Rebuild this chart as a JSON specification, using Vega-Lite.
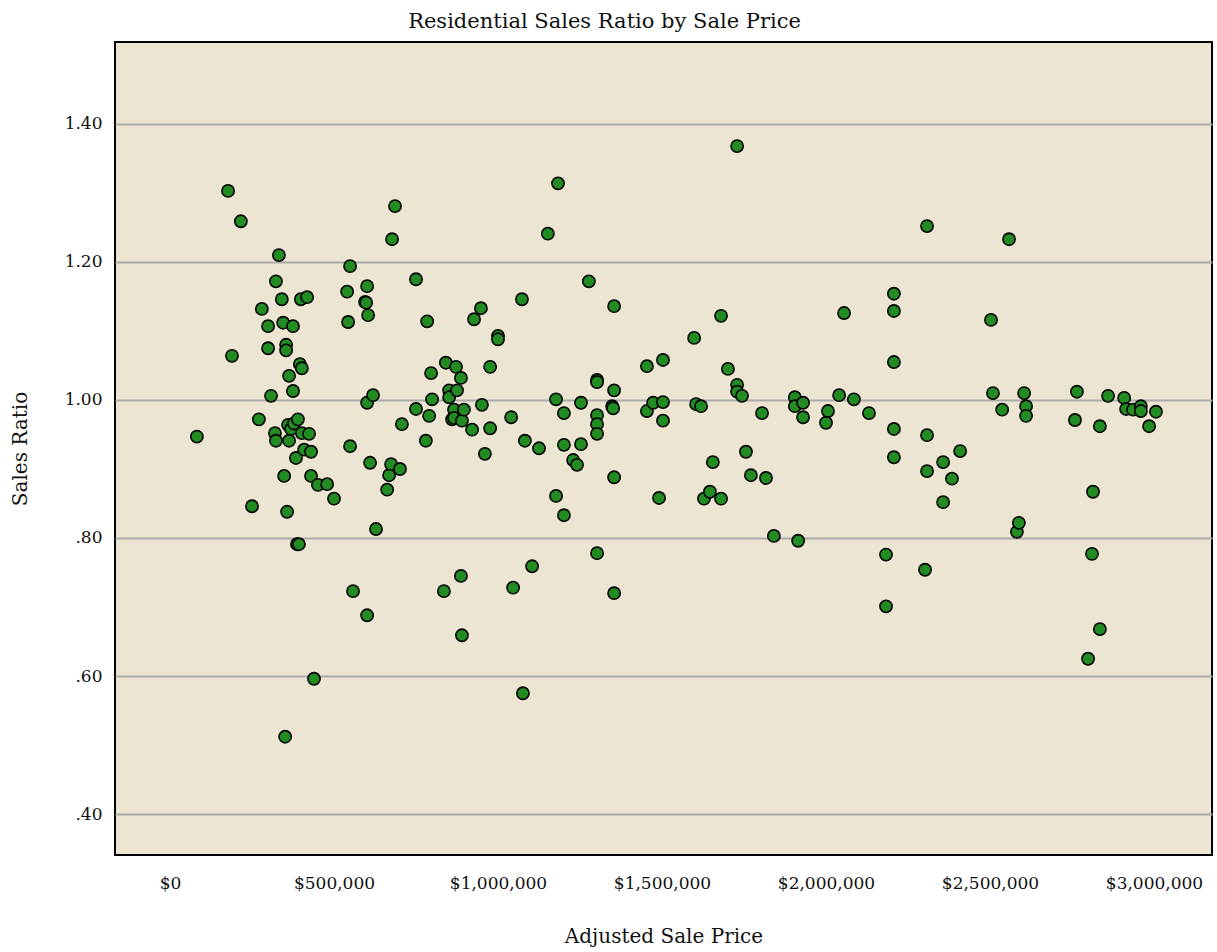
{
  "$schema": "https://vega.github.io/schema/vega-lite/v6.json",
  "autosize": {"type": "none"},
  "padding": {"left": 115, "top": 42, "right": 5, "bottom": 97},
  "width": 1097,
  "height": 813,
  "background": "#ffffff",
  "title": {
    "text": "Residential Sales Ratio by Sale Price",
    "font": "DejaVu Serif",
    "fontSize": 21,
    "fontWeight": "normal",
    "color": "#111111",
    "anchor": "middle",
    "dx": -59,
    "offset": 10
  },
  "config": {
    "view": {"fill": "#ECE5D1", "stroke": "#000000", "strokeWidth": 2},
    "axis": {
      "labelFont": "DejaVu Serif",
      "titleFont": "DejaVu Serif",
      "labelColor": "#111111",
      "titleColor": "#111111",
      "titleFontWeight": "normal",
      "domain": false,
      "ticks": false,
      "tickSize": 0
    }
  },
  "data": {
    "values": [
      {"price": 82000, "ratio": 0.947},
      {"price": 177000, "ratio": 1.303},
      {"price": 216000, "ratio": 1.259},
      {"price": 189000, "ratio": 1.064},
      {"price": 250000, "ratio": 0.846},
      {"price": 271000, "ratio": 0.972},
      {"price": 280000, "ratio": 1.132},
      {"price": 299000, "ratio": 1.107},
      {"price": 299000, "ratio": 1.075},
      {"price": 308000, "ratio": 1.006},
      {"price": 320000, "ratio": 0.952},
      {"price": 323000, "ratio": 0.941},
      {"price": 323000, "ratio": 1.172},
      {"price": 332000, "ratio": 1.210},
      {"price": 341000, "ratio": 1.146},
      {"price": 345000, "ratio": 1.112},
      {"price": 348000, "ratio": 0.890},
      {"price": 351000, "ratio": 0.512},
      {"price": 357000, "ratio": 0.838},
      {"price": 354000, "ratio": 1.080},
      {"price": 354000, "ratio": 1.072},
      {"price": 360000, "ratio": 0.964},
      {"price": 363000, "ratio": 1.035},
      {"price": 363000, "ratio": 0.941},
      {"price": 369000, "ratio": 0.958},
      {"price": 378000, "ratio": 0.966},
      {"price": 375000, "ratio": 1.013},
      {"price": 375000, "ratio": 1.107},
      {"price": 384000, "ratio": 0.916},
      {"price": 387000, "ratio": 0.791},
      {"price": 393000, "ratio": 0.791},
      {"price": 390000, "ratio": 0.972},
      {"price": 396000, "ratio": 1.052},
      {"price": 399000, "ratio": 1.146},
      {"price": 402000, "ratio": 1.046},
      {"price": 402000, "ratio": 0.952},
      {"price": 409000, "ratio": 0.928},
      {"price": 418000, "ratio": 1.149},
      {"price": 424000, "ratio": 0.951},
      {"price": 430000, "ratio": 0.925},
      {"price": 430000, "ratio": 0.890},
      {"price": 439000, "ratio": 0.596},
      {"price": 451000, "ratio": 0.877},
      {"price": 479000, "ratio": 0.878},
      {"price": 500000, "ratio": 0.857},
      {"price": 540000, "ratio": 1.157},
      {"price": 543000, "ratio": 1.113},
      {"price": 549000, "ratio": 1.194},
      {"price": 549000, "ratio": 0.933},
      {"price": 558000, "ratio": 0.723},
      {"price": 595000, "ratio": 1.142},
      {"price": 598000, "ratio": 1.141},
      {"price": 601000, "ratio": 1.165},
      {"price": 604000, "ratio": 1.123},
      {"price": 601000, "ratio": 0.996},
      {"price": 601000, "ratio": 0.688},
      {"price": 610000, "ratio": 0.909},
      {"price": 619000, "ratio": 1.007},
      {"price": 628000, "ratio": 0.813},
      {"price": 662000, "ratio": 0.870},
      {"price": 668000, "ratio": 0.891},
      {"price": 674000, "ratio": 0.907},
      {"price": 677000, "ratio": 1.233},
      {"price": 686000, "ratio": 1.281},
      {"price": 701000, "ratio": 0.900},
      {"price": 707000, "ratio": 0.965},
      {"price": 750000, "ratio": 0.987},
      {"price": 750000, "ratio": 1.175},
      {"price": 780000, "ratio": 0.941},
      {"price": 784000, "ratio": 1.114},
      {"price": 790000, "ratio": 0.977},
      {"price": 799000, "ratio": 1.001},
      {"price": 796000, "ratio": 1.039},
      {"price": 835000, "ratio": 0.723},
      {"price": 841000, "ratio": 1.054},
      {"price": 851000, "ratio": 1.014},
      {"price": 851000, "ratio": 1.004},
      {"price": 860000, "ratio": 0.972},
      {"price": 866000, "ratio": 0.986},
      {"price": 866000, "ratio": 0.974},
      {"price": 872000, "ratio": 1.048},
      {"price": 875000, "ratio": 1.014},
      {"price": 887000, "ratio": 1.032},
      {"price": 887000, "ratio": 0.745},
      {"price": 890000, "ratio": 0.970},
      {"price": 890000, "ratio": 0.659},
      {"price": 896000, "ratio": 0.986},
      {"price": 921000, "ratio": 0.957},
      {"price": 927000, "ratio": 1.117},
      {"price": 948000, "ratio": 1.133},
      {"price": 951000, "ratio": 0.993},
      {"price": 960000, "ratio": 0.922},
      {"price": 976000, "ratio": 1.048},
      {"price": 976000, "ratio": 0.959},
      {"price": 1000000, "ratio": 1.093},
      {"price": 1000000, "ratio": 1.088},
      {"price": 1040000, "ratio": 0.975},
      {"price": 1046000, "ratio": 0.728},
      {"price": 1073000, "ratio": 1.146},
      {"price": 1076000, "ratio": 0.575},
      {"price": 1082000, "ratio": 0.941},
      {"price": 1104000, "ratio": 0.759},
      {"price": 1125000, "ratio": 0.930},
      {"price": 1152000, "ratio": 1.241},
      {"price": 1177000, "ratio": 0.861},
      {"price": 1177000, "ratio": 1.001},
      {"price": 1183000, "ratio": 1.314},
      {"price": 1201000, "ratio": 0.833},
      {"price": 1201000, "ratio": 0.935},
      {"price": 1201000, "ratio": 0.981},
      {"price": 1229000, "ratio": 0.913},
      {"price": 1241000, "ratio": 0.906},
      {"price": 1253000, "ratio": 0.936},
      {"price": 1253000, "ratio": 0.996},
      {"price": 1277000, "ratio": 1.172},
      {"price": 1302000, "ratio": 1.029},
      {"price": 1302000, "ratio": 1.026},
      {"price": 1302000, "ratio": 0.978},
      {"price": 1302000, "ratio": 0.965},
      {"price": 1302000, "ratio": 0.951},
      {"price": 1302000, "ratio": 0.778},
      {"price": 1354000, "ratio": 1.014},
      {"price": 1348000, "ratio": 0.991},
      {"price": 1351000, "ratio": 0.988},
      {"price": 1354000, "ratio": 1.136},
      {"price": 1354000, "ratio": 0.888},
      {"price": 1354000, "ratio": 0.720},
      {"price": 1454000, "ratio": 1.049},
      {"price": 1454000, "ratio": 0.984},
      {"price": 1473000, "ratio": 0.996},
      {"price": 1491000, "ratio": 0.858},
      {"price": 1503000, "ratio": 1.058},
      {"price": 1503000, "ratio": 0.997},
      {"price": 1503000, "ratio": 0.970},
      {"price": 1598000, "ratio": 1.090},
      {"price": 1604000, "ratio": 0.994},
      {"price": 1619000, "ratio": 0.991},
      {"price": 1628000, "ratio": 0.857},
      {"price": 1646000, "ratio": 0.867},
      {"price": 1655000, "ratio": 0.910},
      {"price": 1680000, "ratio": 1.122},
      {"price": 1680000, "ratio": 0.857},
      {"price": 1701000, "ratio": 1.045},
      {"price": 1729000, "ratio": 1.368},
      {"price": 1729000, "ratio": 1.022},
      {"price": 1729000, "ratio": 1.012},
      {"price": 1744000, "ratio": 1.006},
      {"price": 1756000, "ratio": 0.925},
      {"price": 1771000, "ratio": 0.891},
      {"price": 1805000, "ratio": 0.981},
      {"price": 1817000, "ratio": 0.887},
      {"price": 1841000, "ratio": 0.803},
      {"price": 1905000, "ratio": 1.004},
      {"price": 1905000, "ratio": 0.991},
      {"price": 1915000, "ratio": 0.796},
      {"price": 1930000, "ratio": 0.996},
      {"price": 1930000, "ratio": 0.975},
      {"price": 2000000, "ratio": 0.967},
      {"price": 2006000, "ratio": 0.984},
      {"price": 2040000, "ratio": 1.007},
      {"price": 2055000, "ratio": 1.126},
      {"price": 2085000, "ratio": 1.001},
      {"price": 2131000, "ratio": 0.981},
      {"price": 2183000, "ratio": 0.776},
      {"price": 2183000, "ratio": 0.701},
      {"price": 2207000, "ratio": 1.154},
      {"price": 2207000, "ratio": 1.129},
      {"price": 2207000, "ratio": 1.055},
      {"price": 2207000, "ratio": 0.958},
      {"price": 2207000, "ratio": 0.917},
      {"price": 2308000, "ratio": 1.252},
      {"price": 2308000, "ratio": 0.949},
      {"price": 2308000, "ratio": 0.897},
      {"price": 2302000, "ratio": 0.754},
      {"price": 2357000, "ratio": 0.910},
      {"price": 2357000, "ratio": 0.852},
      {"price": 2384000, "ratio": 0.886},
      {"price": 2409000, "ratio": 0.926},
      {"price": 2503000, "ratio": 1.116},
      {"price": 2509000, "ratio": 1.010},
      {"price": 2537000, "ratio": 0.986},
      {"price": 2558000, "ratio": 1.233},
      {"price": 2582000, "ratio": 0.809},
      {"price": 2588000, "ratio": 0.822},
      {"price": 2604000, "ratio": 1.010},
      {"price": 2610000, "ratio": 0.991},
      {"price": 2610000, "ratio": 0.977},
      {"price": 2759000, "ratio": 0.971},
      {"price": 2765000, "ratio": 1.012},
      {"price": 2799000, "ratio": 0.625},
      {"price": 2811000, "ratio": 0.777},
      {"price": 2814000, "ratio": 0.867},
      {"price": 2835000, "ratio": 0.668},
      {"price": 2835000, "ratio": 0.962},
      {"price": 2860000, "ratio": 1.006},
      {"price": 2909000, "ratio": 1.003},
      {"price": 2915000, "ratio": 0.987},
      {"price": 2936000, "ratio": 0.986},
      {"price": 2960000, "ratio": 0.991},
      {"price": 2960000, "ratio": 0.984},
      {"price": 2985000, "ratio": 0.962},
      {"price": 3006000, "ratio": 0.983}
    ]
  },
  "mark": {
    "type": "point",
    "shape": "circle",
    "filled": true,
    "size": 150,
    "fill": "#228B22",
    "stroke": "#000000",
    "strokeWidth": 1.6,
    "opacity": 1
  },
  "encoding": {
    "x": {
      "field": "price",
      "type": "quantitative",
      "scale": {"domain": [-167700, 3176800], "nice": false, "zero": false},
      "axis": {
        "title": "Adjusted Sale Price",
        "values": [0, 500000, 1000000, 1500000, 2000000, 2500000, 3000000],
        "format": "$,.0f",
        "grid": false,
        "labelFontSize": 17,
        "labelPadding": 20,
        "titleFontSize": 20,
        "titlePadding": 35
      }
    },
    "y": {
      "field": "ratio",
      "type": "quantitative",
      "scale": {"domain": [0.3406, 1.5188], "nice": false, "zero": false},
      "axis": {
        "title": "Sales Ratio",
        "values": [0.4, 0.6, 0.8, 1.0, 1.2, 1.4],
        "labelExpr": "datum.value < 1 ? slice(format(datum.value, '.2f'), 1) : format(datum.value, '.2f')",
        "grid": true,
        "gridColor": "#ABABAB",
        "gridWidth": 2,
        "labelFontSize": 17,
        "labelPadding": 13,
        "titleFontSize": 20,
        "titlePadding": 34
      }
    }
  }
}
